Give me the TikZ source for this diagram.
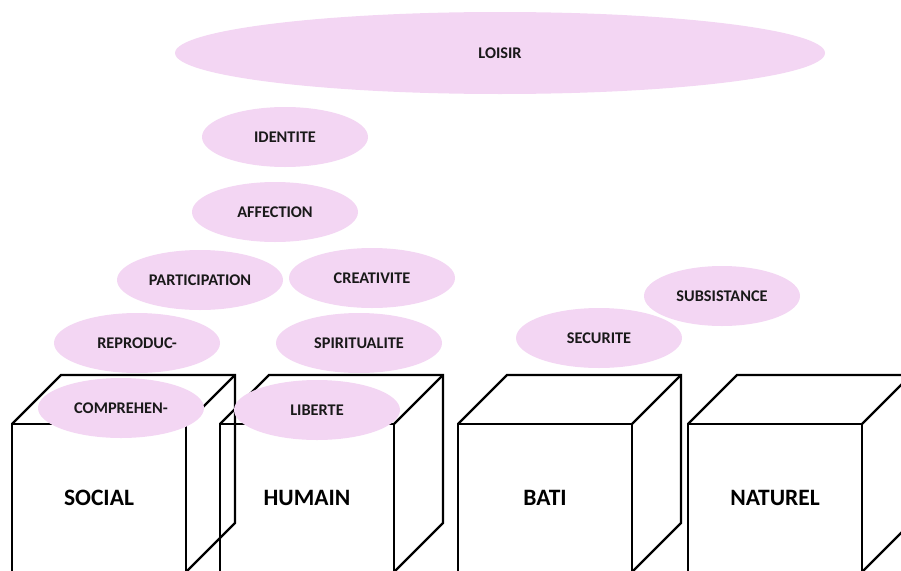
\documentclass[tikz,border=0pt]{standalone}
\usepackage{fontspec}
\setmainfont{Carlito}
\usetikzlibrary{shapes.geometric}
\definecolor{needpink}{RGB}{243,214,243}

\begin{document}
\begin{tikzpicture}[x=1pt,y=-1pt,
  need/.style={ellipse,fill=needpink,minimum width=166pt,minimum height=60pt,inner sep=0pt,text=black!90,font=\fontsize{16.3}{19}\selectfont\bfseries},
  cubeline/.style={line width=2.2pt,line join=miter},
  capital/.style={font=\fontsize{23.5}{28}\selectfont\bfseries}]
\useasboundingbox (0,0) rectangle (901,570);
\clip (0,0) rectangle (901,570);

% SOCIAL
\draw[cubeline] (12,572) -- (12,424) -- (186,424) -- (186,572);
\draw[cubeline] (12,424) -- (61,375) -- (235,375) -- (235,523) -- (186,572);
\draw[cubeline] (186,424) -- (235,375);

% HUMAIN
\draw[cubeline] (220,572) -- (220,424) -- (394,424) -- (394,572);
\draw[cubeline] (220,424) -- (269,375) -- (443,375) -- (443,523) -- (394,572);
\draw[cubeline] (394,424) -- (443,375);

% BATI
\draw[cubeline] (458,572) -- (458,424) -- (632,424) -- (632,572);
\draw[cubeline] (458,424) -- (507,375) -- (681,375) -- (681,523) -- (632,572);
\draw[cubeline] (632,424) -- (681,375);

% NATUREL
\draw[cubeline] (688,572) -- (688,424) -- (862,424) -- (862,572);
\draw[cubeline] (688,424) -- (737,375) -- (911,375) -- (911,523) -- (862,572);
\draw[cubeline] (862,424) -- (911,375);

\node[capital] (social) at (99,498) {SOCIAL};
\node[capital] (humain) at (307,498) {HUMAIN};
\node[capital] (bati) at (545,498) {BATI};
\node[capital] (naturel) at (775,498) {NATUREL};

% besoins
\node[need,minimum width=650pt,minimum height=82pt] (loisir) at (500,53) {LOISIR};
\node[need] (identite) at (285,137) {IDENTITE};
\node[need] (affection) at (275,212) {AFFECTION};
\node[need] (participation) at (200,280) {PARTICIPATION};
\node[need] (creativite) at (372,278) {CREATIVITE};
\node[need] (reproduc) at (137,343) {REPRODUC-};
\node[need] (spiritualite) at (359,343) {SPIRITUALITE};
\node[need] (comprehen) at (121,408) {COMPREHEN-};
\node[need] (liberte) at (317,410) {LIBERTE};
\node[need] (securite) at (599,338) {SECURITE};
\node[need,minimum width=156pt] (subsistance) at (722,296) {SUBSISTANCE};
\end{tikzpicture}
\end{document}
